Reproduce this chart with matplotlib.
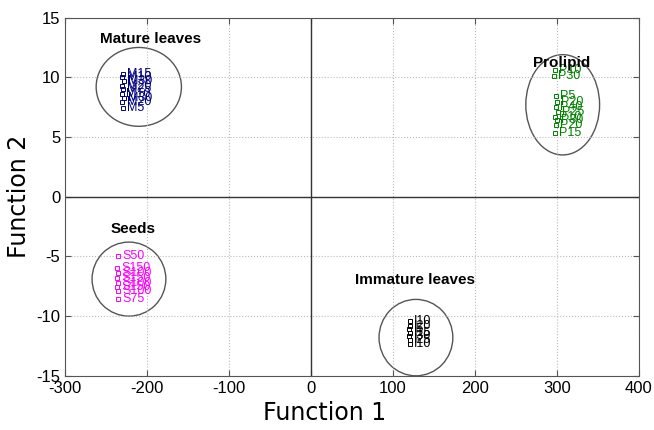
import matplotlib.pyplot as plt
from matplotlib.patches import Ellipse

plt.rcParams['font.family'] = ['Liberation Sans', 'DejaVu Sans']
plt.rcParams['axes.unicode_minus'] = False

# Discriminant scores for each sample group
mature_names = ["M15", "M10", "M30", "M20", "M25", "M10", "M30", "M20", "M5"]
mature_f1 = [-229, -230, -228, -230, -229, -231, -228, -230, -229]
mature_f2 = [10.3, 10.0, 9.7, 9.3, 9.0, 8.6, 8.3, 7.9, 7.4]

prolipid_names = ["P10", "P30", "P5", "P20", "P40", "P25", "P10", "P30", "P20", "P15"]
prolipid_f1 = [297, 296, 299, 300, 299, 301, 298, 300, 299, 298]
prolipid_f2 = [10.6, 10.1, 8.4, 7.9, 7.5, 7.1, 6.7, 6.4, 6.0, 5.3]

seed_names = ["S50", "S150", "S100", "S150", "S100", "S150", "S100", "S75"]
seed_f1 = [-235, -236, -235, -236, -235, -236, -235, -235]
seed_f2 = [-5.0, -6.0, -6.4, -6.8, -7.2, -7.6, -7.9, -8.6]

immature_names = ["I10", "I20", "I5", "I15", "I30", "I25", "I10"]
immature_f1 = [121, 121, 120, 121, 120, 121, 121]
immature_f2 = [-10.4, -10.8, -11.1, -11.4, -11.7, -12.0, -12.3]

groups = [
    ("Mature leaves", mature_names, mature_f1, mature_f2, "#000080"),
    ("Prolipid", prolipid_names, prolipid_f1, prolipid_f2, "#008000"),
    ("Seeds", seed_names, seed_f1, seed_f2, "#ff00ff"),
    ("Immature leaves", immature_names, immature_f1, immature_f2, "#000000"),
]

# group circles: centre (f1, f2), width, height
circles = [(-210, 9.2, 104, 6.6), (307, 7.7, 90, 8.4),
           (-222, -6.9, 90, 6.2), (128, -11.8, 90, 6.4)]
title_pos = [(-196, 13.2), (306, 11.2), (-217, -2.7), (127, -7.0)]

fig = plt.figure(figsize=(6.54, 4.30), dpi=100)
ax = fig.add_axes([0.0994, 0.126, 0.8776, 0.833])

for (name, labels, xs, ys, col), (cx, cy, w, h), (tx, ty) in zip(groups, circles, title_pos):
    ax.plot(xs, ys, linestyle="none", marker="s", markersize=2.5,
            markerfacecolor="none", markeredgecolor=col, markeredgewidth=0.7)
    for lab, x, y in zip(labels, xs, ys):
        ax.annotate(lab, (x, y), xytext=(3, 0), textcoords="offset points",
                    va="center", ha="left", fontsize=9, color=col)
    ax.add_patch(Ellipse((cx, cy), w, h, fill=False, edgecolor="#555555", lw=1))
    ax.text(tx, ty, name, ha="center", va="center", fontsize=11,
            fontweight="bold", color="black")

ax.axhline(0, color="#333333", lw=1)
ax.axvline(0, color="#333333", lw=1)

ax.set_xlim(-300, 400)
ax.set_ylim(-15, 15)
ax.set_xticks(range(-300, 401, 100))
ax.set_yticks(range(-15, 16, 5))
ax.grid(True, linestyle=":", color="#bbbbbb", lw=0.8)
ax.tick_params(direction="in", length=4, labelsize=12, top=True, right=True,
               color="#555555")
for s in ax.spines.values():
    s.set_color("#555555")

ax.set_xlabel("Function 1", fontsize=17, family="DejaVu Sans")
ax.xaxis.set_label_coords(0.453, -0.07)
ax.set_ylabel("Function 2", fontsize=17, family="DejaVu Sans", labelpad=4)

fig.savefig("out.png", dpi=100)
